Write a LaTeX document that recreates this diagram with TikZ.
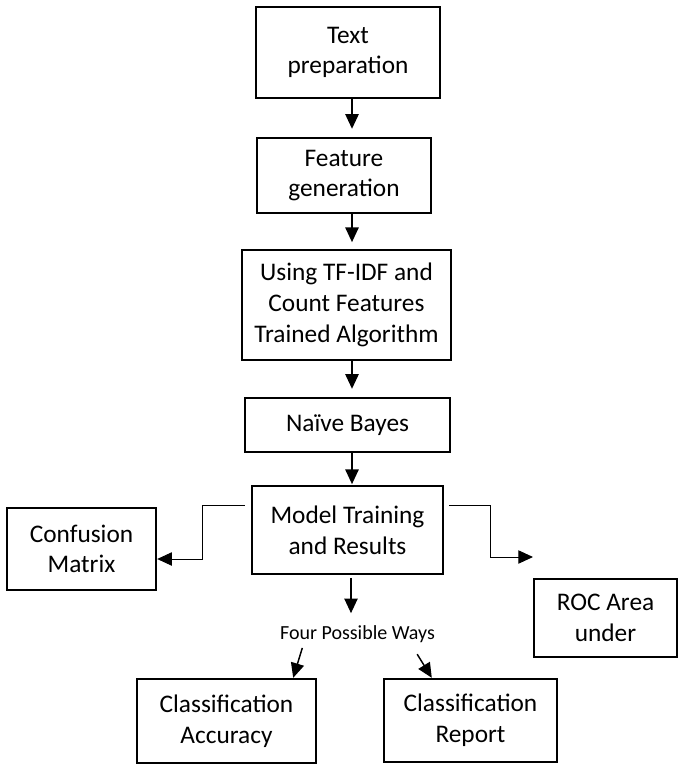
\documentclass[tikz,border=0pt]{standalone}
\usepackage{fontspec}
\setmainfont{Carlito}
\usetikzlibrary{arrows.meta,calc}
\begin{document}
\begin{tikzpicture}[x=0.75pt,y=-0.75pt,
  box/.style={draw=black,line width=1.8pt,inner sep=0pt,align=center,
    font=\fontsize{19}{23}\selectfont},
  arr/.style={line width=1.1pt,-{Triangle[length=11pt,width=10pt]}},
  elb/.style={line width=0.7pt,-{Triangle[length=11pt,width=10pt]}},
  lbl/.style={inner sep=0pt,font=\fontsize{15}{18}\selectfont}]
\useasboundingbox (0,0) rectangle (678,764);
\node[box,minimum width=138pt,minimum height=68.25pt] (tp) at (348,52.5) {Text\\preparation};
\node[box,minimum width=130.5pt,minimum height=56.25pt] (fg) at (344,175.5) {Feature\\generation};
\node[box,minimum width=156.75pt,minimum height=82.5pt] (tf) at (346.5,305) {Using TF-IDF and\\Count Features\\Trained Algorithm};
\node[box,minimum width=153.75pt,minimum height=40.5pt] (nb) at (347.5,425) {Naïve Bayes};
\node[box,minimum width=143.25pt,minimum height=66pt] (mt) at (347.5,530) {Model Training\\and Results};
\node[box,minimum width=111.75pt,minimum height=61.5pt] (cm) at (81.5,549) {Confusion\\Matrix};
\node[box,minimum width=107.25pt,minimum height=58.5pt] (roc) at (605.5,618) {ROC Area\\under};
\node[box,minimum width=134.25pt,minimum height=63pt] (ca) at (226.5,721) {Classification\\Accuracy};
\node[box,minimum width=129.75pt,minimum height=62.25pt] (cr) at (470.5,720.5) {Classification\\Report};
\node[lbl] (fw) at (357.5,634) {Four Possible Ways};
\coordinate (xa) at (352,0);
\coordinate (xb) at (351,0);
\coordinate (rocend) at (533,557);
\draw[arr,shorten >=6pt] (tp.south -| xa) -- (fg.north -| xa);
\draw[arr,shorten >=5pt] (fg.south -| xa) -- (tf.north -| xa);
\draw[arr,shorten >=6pt] (tf.south -| xa) -- (nb.north -| xa);
\draw[arr,shorten >=0.5pt] (nb.south -| xa) -- (mt.north -| xa);
\draw[arr,shorten <=2pt,shorten >=9pt] (mt.south -| xb) -- (fw.north -| xb);
\draw[arr,shorten <=4pt] ($(fw.south west)+(24,0)$) -- ($(ca.north east)+(-24,0)$);
\draw[arr,shorten <=10pt] ($(fw.south east)+(-25,0)$) -- ($(cr.north west)+(49,0)$);
\draw[elb] ($(mt.west)+(-6,-25)$) -| ($(cm.east)+(45,10)$) -- (cm.east |- 0,559);
\draw[elb] ($(mt.east)+(5,-25)$) -- (490,505) |- (rocend);
\end{tikzpicture}
\end{document}
